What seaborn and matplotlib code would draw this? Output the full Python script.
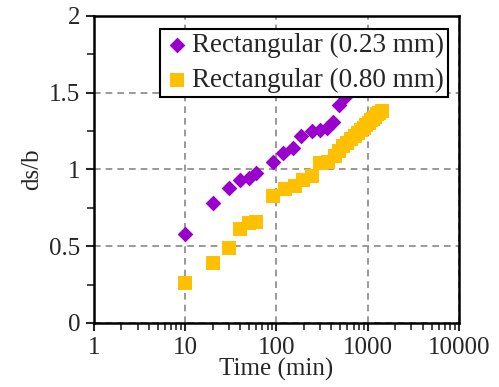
import matplotlib
matplotlib.use("Agg")
import matplotlib.pyplot as plt
import matplotlib.ticker as mticker
import numpy as np
import pandas as pd
import seaborn as sns

# data
t_023 = [10, 20, 30, 40, 50, 60, 91, 117, 150, 185, 243, 300, 355, 415, 480, 560]
ds_023 = [0.58, 0.78, 0.88, 0.93, 0.945, 0.98, 1.05, 1.11, 1.14, 1.22, 1.25, 1.26,
          1.27, 1.31, 1.42, 1.47]

t_080 = [10, 20, 30, 40, 50, 60, 91, 123, 158, 195, 243, 300, 365, 435, 480, 540,
         600, 660, 720, 780, 840, 900, 960, 1020, 1080, 1140, 1200, 1260, 1320, 1440]
ds_080 = [0.26, 0.39, 0.49, 0.61, 0.65, 0.66, 0.83, 0.87, 0.89, 0.93, 0.96, 1.04,
          1.05, 1.09, 1.12, 1.15, 1.17, 1.20, 1.22, 1.24, 1.26, 1.27, 1.29, 1.30,
          1.32, 1.33, 1.345, 1.36, 1.37, 1.38]

labels = ["Rectangular (0.23 mm)", "Rectangular (0.80 mm)"]

df = pd.concat([
    pd.DataFrame({"t": t_023, "ds": ds_023, "series": labels[0]}),
    pd.DataFrame({"t": t_080, "ds": ds_080, "series": labels[1]}),
])

sns.set_style("ticks")
plt.rcParams["font.family"] = ["Liberation Serif", "DejaVu Serif"]
plt.rcParams["font.size"] = 18

fig = plt.figure(figsize=(4.99, 3.87), dpi=100)
ax = fig.add_axes([0.1884, 0.1654, 0.7314, 0.7933])

palette = {labels[0]: "#9900CC", labels[1]: "#FFC000"}
markers = {labels[0]: "D", labels[1]: "s"}
for lab, size in [(labels[1], 100), (labels[0], 64)]:
    sub = df[df["series"] == lab]
    sns.scatterplot(data=sub, x="t", y="ds", color=palette[lab], marker=markers[lab],
                    s=size, linewidth=0, ax=ax, label=lab, zorder=3)

ax.set_xscale("log")
ax.set_xlim(1, 10000)
ax.set_ylim(0, 2)
ax.xaxis.set_major_locator(mticker.LogLocator(base=10, numticks=10))
ax.xaxis.set_major_formatter(mticker.FuncFormatter(lambda v, p: f"{int(round(v))}"))
ax.xaxis.set_minor_locator(mticker.LogLocator(base=10, subs=np.arange(2, 10), numticks=10))
ax.xaxis.set_minor_formatter(mticker.NullFormatter())
ax.yaxis.set_major_locator(mticker.MultipleLocator(0.5))
ax.yaxis.set_minor_locator(mticker.MultipleLocator(0.25))
ax.yaxis.set_major_formatter(mticker.FuncFormatter(lambda v, p: f"{v:g}"))

ax.grid(True, which="major", linestyle=(0, (4, 3)), color="#888888", linewidth=1.2)
ax.set_axisbelow(True)
for sp in ax.spines.values():
    sp.set_visible(True)
    sp.set_linewidth(1.8)
    sp.set_color("black")

ax.tick_params(which="major", direction="out", length=6, width=1.5, labelsize=18, pad=4)
ax.tick_params(which="minor", direction="out", length=5, width=1.2)
ax.tick_params(which="both", top=False, right=False)

ax.set_xlabel("Time (min)", fontsize=18, labelpad=-1)
ax.set_ylabel("ds/b", fontsize=18, labelpad=4)

handles, labs = ax.get_legend_handles_labels()
order = [labs.index(labels[0]), labs.index(labels[1])]
leg = ax.legend([handles[i] for i in order], [labs[i] for i in order],
                loc="upper right", bbox_to_anchor=(0.985, 0.975), frameon=True, fancybox=False,
                edgecolor="black", framealpha=1, fontsize=19.5, handletextpad=0.05,
                handlelength=1.0, borderpad=0.15, labelspacing=0.35, borderaxespad=0.2)
leg.get_frame().set_linewidth(1.5)
leg.set_zorder(5)

fig.savefig("out.png", dpi=100)
